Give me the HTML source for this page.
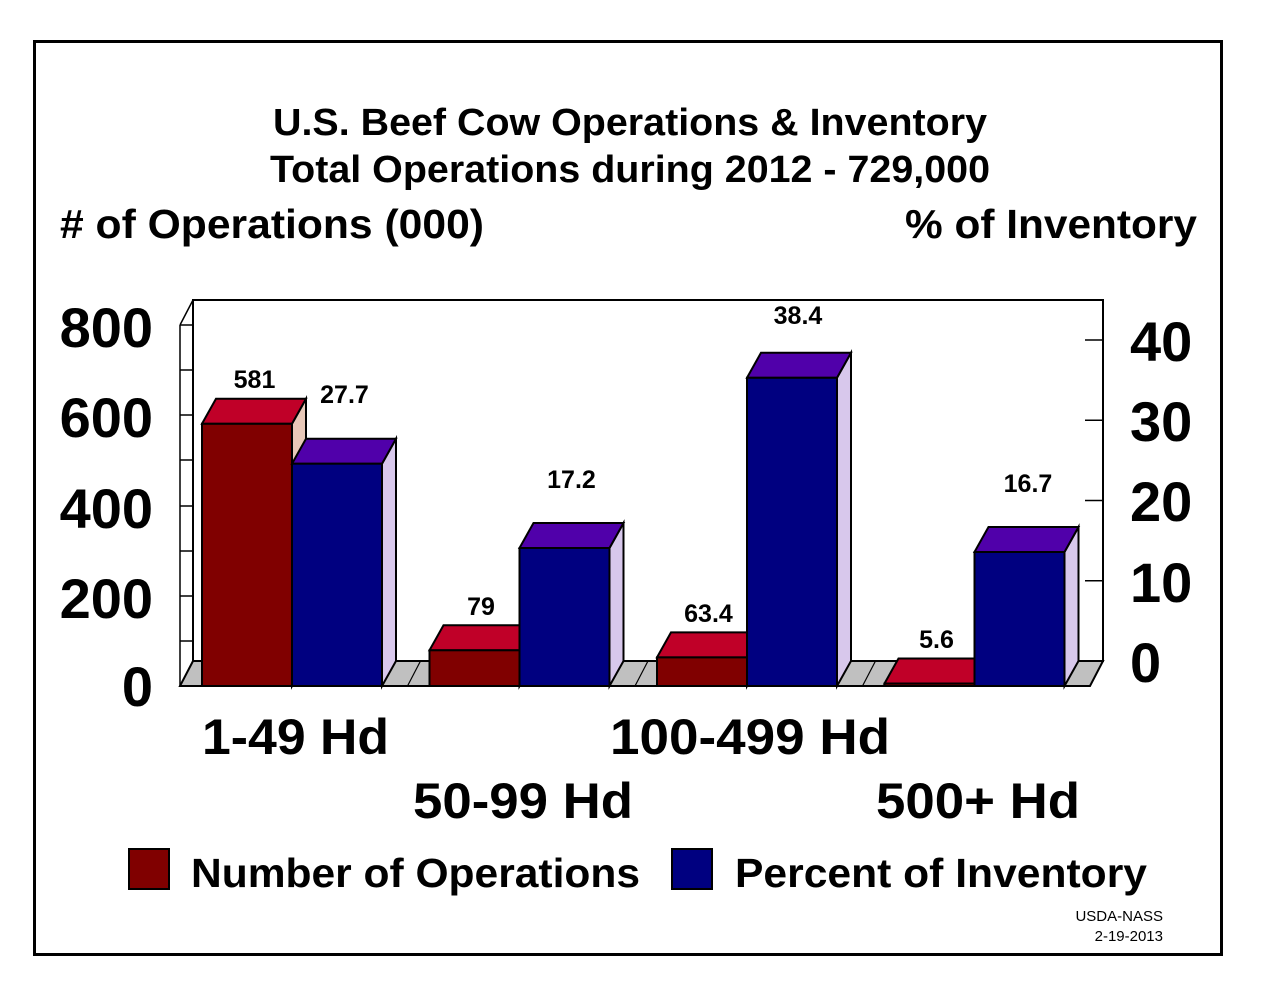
<!DOCTYPE html>
<html>
<head>
<meta charset="utf-8">
<style>
html,body{margin:0;padding:0;background:#fff;}
svg{display:block;}
text{font-family:"Liberation Sans",Arial,sans-serif;fill:#000;}
.b{font-weight:bold;}
</style>
</head>
<body>
<svg width="1280" height="991" viewBox="0 0 1280 991" xmlns="http://www.w3.org/2000/svg">
<rect x="0" y="0" width="1280" height="991" fill="#fff"/>
<!-- outer frame -->
<rect x="34.5" y="41.5" width="1187" height="913" fill="none" stroke="#000" stroke-width="3"/>

<!-- titles -->
<text class="b" x="630" y="135" font-size="38" text-anchor="middle" textLength="714" lengthAdjust="spacingAndGlyphs">U.S. Beef Cow Operations &amp; Inventory</text>
<text class="b" x="630" y="182" font-size="38" text-anchor="middle" textLength="720" lengthAdjust="spacingAndGlyphs">Total Operations during 2012 - 729,000</text>
<text class="b" x="60" y="238" font-size="41" textLength="424" lengthAdjust="spacingAndGlyphs"># of Operations (000)</text>
<text class="b" x="905" y="238" font-size="41" textLength="292" lengthAdjust="spacingAndGlyphs">% of Inventory</text>

<!-- back plane -->
<rect x="193" y="300" width="910" height="361" fill="#fff" stroke="#000" stroke-width="2"/>
<!-- left wall -->
<g stroke="#000" stroke-width="1.5" fill="none">
<line x1="180" y1="325" x2="180" y2="686"/>
<line x1="180" y1="325" x2="193" y2="300"/>
<line x1="180" y1="325" x2="193" y2="325"/>
<line x1="180" y1="370" x2="193" y2="370"/>
<line x1="180" y1="415" x2="193" y2="415"/>
<line x1="180" y1="460" x2="193" y2="460"/>
<line x1="180" y1="506" x2="193" y2="506"/>
<line x1="180" y1="551" x2="193" y2="551"/>
<line x1="180" y1="596" x2="193" y2="596"/>
<line x1="180" y1="641" x2="193" y2="641"/>
</g>
<!-- right axis ticks -->
<g stroke="#000" stroke-width="1.5">
<line x1="1085" y1="340" x2="1103" y2="340"/>
<line x1="1085" y1="420.3" x2="1103" y2="420.3"/>
<line x1="1085" y1="500.5" x2="1103" y2="500.5"/>
<line x1="1085" y1="580.8" x2="1103" y2="580.8"/>
</g>
<!-- floor -->
<polygon points="180,686 193,661 1103,661 1090,686" fill="#c0c0c0" stroke="#000" stroke-width="2"/>
<g stroke="#000" stroke-width="1.2">
<line x1="407.5" y1="686" x2="420.5" y2="661"/>
<line x1="635" y1="686" x2="648" y2="661"/>
<line x1="862.5" y1="686" x2="875.5" y2="661"/>
</g>

<!-- bars -->
<g stroke="#000" stroke-width="2" stroke-linejoin="miter">
<!-- G1 red -->
<polygon points="292,423.8 306,398.8 306,661 292,686" fill="#e8c8b8"/>
<polygon points="202,423.8 216,398.8 306,398.8 292,423.8" fill="#c00028"/>
<rect x="202" y="423.8" width="90" height="262.2" fill="#800000"/>
<!-- G1 blue -->
<polygon points="382,463.7 396,438.7 396,661 382,686" fill="#d8c8ec"/>
<polygon points="292,463.7 306,438.7 396,438.7 382,463.7" fill="#5000aa"/>
<rect x="292" y="463.7" width="90" height="222.3" fill="#000080"/>

<!-- G2 red -->
<polygon points="519.5,650.3 533.5,625.3 533.5,661 519.5,686" fill="#e8c8b8"/>
<polygon points="429.5,650.3 443.5,625.3 533.5,625.3 519.5,650.3" fill="#c00028"/>
<rect x="429.5" y="650.3" width="90" height="35.7" fill="#800000"/>
<!-- G2 blue -->
<polygon points="609.5,548 623.5,523 623.5,661 609.5,686" fill="#d8c8ec"/>
<polygon points="519.5,548 533.5,523 623.5,523 609.5,548" fill="#5000aa"/>
<rect x="519.5" y="548" width="90" height="138" fill="#000080"/>

<!-- G3 red -->
<polygon points="747,657.4 761,632.4 761,661 747,686" fill="#e8c8b8"/>
<polygon points="657,657.4 671,632.4 761,632.4 747,657.4" fill="#c00028"/>
<rect x="657" y="657.4" width="90" height="28.6" fill="#800000"/>
<!-- G3 blue -->
<polygon points="837,377.8 851,352.8 851,661 837,686" fill="#d8c8ec"/>
<polygon points="747,377.8 761,352.8 851,352.8 837,377.8" fill="#5000aa"/>
<rect x="747" y="377.8" width="90" height="308.2" fill="#000080"/>

<!-- G4 red -->
<polygon points="884.5,683.5 898.5,658.5 988.5,658.5 974.5,683.5" fill="#c00028"/>
<rect x="884.5" y="683.5" width="90" height="2.5" fill="#800000"/>
<!-- G4 blue -->
<polygon points="1064.5,552 1078.5,527 1078.5,661 1064.5,686" fill="#d8c8ec"/>
<polygon points="974.5,552 988.5,527 1078.5,527 1064.5,552" fill="#5000aa"/>
<rect x="974.5" y="552" width="90" height="134" fill="#000080"/>
</g>

<!-- data labels -->
<g class="b" font-size="25" text-anchor="middle" font-weight="bold">
<text x="254.5" y="388">581</text>
<text x="344.5" y="403">27.7</text>
<text x="481" y="615">79</text>
<text x="571.5" y="488">17.2</text>
<text x="708.5" y="622">63.4</text>
<text x="798" y="324">38.4</text>
<text x="936.5" y="648">5.6</text>
<text x="1028" y="492">16.7</text>
</g>

<!-- left axis labels -->
<g font-size="56" font-weight="bold" text-anchor="end">
<text x="153" y="347">800</text>
<text x="153" y="437">600</text>
<text x="153" y="528">400</text>
<text x="153" y="618">200</text>
<text x="153" y="706">0</text>
</g>
<!-- right axis labels -->
<g font-size="56" font-weight="bold" text-anchor="start">
<text x="1130" y="361">40</text>
<text x="1130" y="441">30</text>
<text x="1130" y="521">20</text>
<text x="1130" y="602">10</text>
<text x="1130" y="682">0</text>
</g>

<!-- category labels -->
<g font-size="50" font-weight="bold">
<text x="202" y="754" textLength="187" lengthAdjust="spacingAndGlyphs">1-49 Hd</text>
<text x="413" y="818" textLength="220" lengthAdjust="spacingAndGlyphs">50-99 Hd</text>
<text x="610" y="754" textLength="280" lengthAdjust="spacingAndGlyphs">100-499 Hd</text>
<text x="876" y="818" textLength="204" lengthAdjust="spacingAndGlyphs">500+ Hd</text>
</g>

<!-- legend -->
<rect x="129" y="849" width="40" height="40" fill="#800000" stroke="#000" stroke-width="2"/>
<rect x="672" y="849" width="40" height="40" fill="#000080" stroke="#000" stroke-width="2"/>
<g font-size="41" font-weight="bold">
<text x="191" y="887" textLength="449" lengthAdjust="spacingAndGlyphs">Number of Operations</text>
<text x="735" y="887" textLength="412" lengthAdjust="spacingAndGlyphs">Percent of Inventory</text>
</g>

<!-- footer -->
<g font-size="15" text-anchor="end">
<text x="1163" y="921">USDA-NASS</text>
<text x="1163" y="941">2-19-2013</text>
</g>
</svg>
</body>
</html>
